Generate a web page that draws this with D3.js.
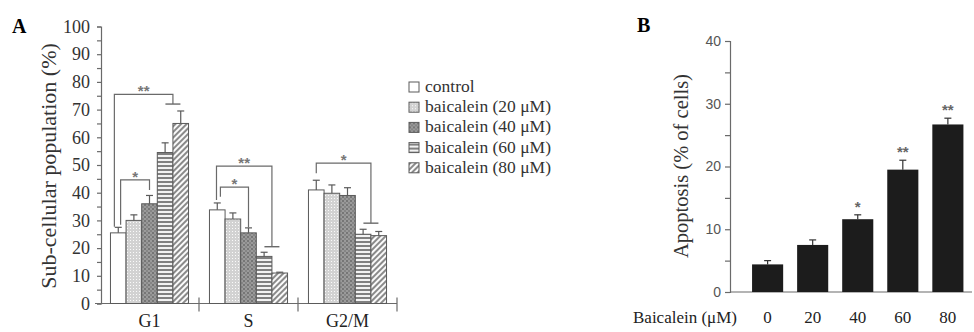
<!DOCTYPE html>
<html>
<head>
<meta charset="utf-8">
<script src="https://cdn.jsdelivr.net/npm/d3@7"></script>
<style>
  body { margin: 0; background: #fff; }
  svg { display: block; }
</style>
</head>
<body>
<div id="chart"></div>
<script>
// ---- data, panel A (cell cycle) ----
var phases = ["G1", "S", "G2/M"];
var treatments = ["control", "baicalein (20 μM)", "baicalein (40 μM)", "baicalein (60 μM)", "baicalein (80 μM)"];
var meanG1 = [25.5, 30, 36, 54.5, 65];
var meanS = [33.8, 30.5, 25.5, 17, 11];
var meanG2M = [41, 39.8, 39, 25, 24.5];
var errG1 = [2, 2, 3, 3.5, 4.5];
var errS = [2.5, 2.2, 1.8, 1.5, 0.3];
var errG2M = [3.5, 3, 2.8, 1.8, 1.5];
var yTicksA = [0, 10, 20, 30, 40, 50, 60, 70, 80, 90, 100];

// significance brackets: phase, left/right (treatment index, fractional), bracket level, leg ends, label
var brackets = [
  {phase: "G1", a: 0.25, b: 4.0, top: 75.5, aEnd: 27.7, bEnd: 72, cap: true, label: "**"},
  {phase: "G1", a: 0.65, b: 2.5, top: 44.6, aEnd: 28.4, bEnd: 41, cap: false, label: "*"},
  {phase: "S", a: 0.45, b: 4.0, top: 49.6, aEnd: 37.4, bEnd: 20.5, cap: true, label: "**"},
  {phase: "S", a: 0.7, b: 2.5, top: 42, aEnd: 38.5, bEnd: 27.5, cap: false, label: "*"},
  {phase: "G2/M", a: 0.5, b: 4.0, top: 50.7, aEnd: 47, bEnd: 29, cap: true, label: "*"}
];

// ---- data, panel B (apoptosis) ----
var doses = ["0", "20", "40", "60", "80"];
var apoptosis = [4.4, 7.5, 11.6, 19.5, 26.7];
var apoptosisErr = [0.6, 0.8, 0.7, 1.5, 1.0];
var apoptosisSig = ["", "", "*", "**", "**"];
var yTicksB = [0, 10, 20, 30, 40];

var width = 974, height = 332;
var serif = "'Liberation Serif', 'Times New Roman', serif";
var sans = "'Liberation Sans', Arial, sans-serif";

var svg = d3.select("#chart").append("svg")
  .attr("width", width)
  .attr("height", height);

var defs = svg.append("defs");

// fill patterns for the treatments
var p20 = defs.append("pattern").attr("id", "p20")
  .attr("patternUnits", "userSpaceOnUse").attr("width", 3).attr("height", 3);
p20.append("rect").attr("width", 3).attr("height", 3).attr("fill", "#d2d2d2");
p20.append("rect").attr("width", 1).attr("height", 1).attr("fill", "#fafafa");

var p40 = defs.append("pattern").attr("id", "p40")
  .attr("patternUnits", "userSpaceOnUse").attr("width", 4).attr("height", 4);
p40.append("rect").attr("width", 4).attr("height", 4).attr("fill", "#9a9a9a");
p40.append("rect").attr("width", 2).attr("height", 2).attr("fill", "#767676");
p40.append("rect").attr("x", 2).attr("y", 2).attr("width", 2).attr("height", 2).attr("fill", "#858585");

var p60 = defs.append("pattern").attr("id", "p60")
  .attr("patternUnits", "userSpaceOnUse").attr("width", 4).attr("height", 4);
p60.append("rect").attr("width", 4).attr("height", 4).attr("fill", "#f2f2f2");
p60.append("rect").attr("y", 1).attr("width", 4).attr("height", 2).attr("fill", "#808080");

var p80 = defs.append("pattern").attr("id", "p80")
  .attr("patternUnits", "userSpaceOnUse").attr("width", 4).attr("height", 4)
  .attr("patternTransform", "rotate(45)");
p80.append("rect").attr("width", 4).attr("height", 4).attr("fill", "#fafafa");
p80.append("rect").attr("width", 2).attr("height", 4).attr("fill", "#8a8a8a");

var fills = ["#ffffff", "url(#p20)", "url(#p40)", "url(#p60)", "url(#p80)"];

// ================= panel A =================
var means = {"G1": meanG1, "S": meanS, "G2/M": meanG2M};
var errs = {"G1": errG1, "S": errS, "G2/M": errG2M};

var yA = d3.scaleLinear().domain([0, 100]).range([303.5, 26.5]);
var xA = d3.scaleBand().domain(phases).range([100, 397]);
var xInner = d3.scaleBand().domain(d3.range(treatments.length))
  .range([0, xA.bandwidth()]).paddingOuter(0.67);

var gA = svg.append("g");

// y axis
var axisA = gA.append("g")
  .attr("transform", "translate(101,0)")
  .call(d3.axisLeft(yA).tickValues(d3.range(0, 101, 5)).tickSize(4)
    .tickFormat(function(d){ return yTicksA.indexOf(d) >= 0 ? d : ""; }));
axisA.select(".domain").attr("stroke", "#6a6a6a").attr("stroke-width", 1.2);
axisA.selectAll(".tick line").attr("stroke", "#6a6a6a").attr("stroke-width", 1.2);
axisA.selectAll(".tick text")
  .attr("x", -11)
  .attr("font-family", serif).attr("font-size", 18).attr("fill", "#333");

// x axis line with category separators
gA.append("line")
  .attr("x1", 95).attr("x2", xA.range()[1])
  .attr("y1", yA(0)).attr("y2", yA(0))
  .attr("stroke", "#6a6a6a").attr("stroke-width", 1.2);
gA.selectAll(".sep")
  .data(phases.slice(1).concat([null]))
  .enter().append("line")
  .attr("x1", function(d){ return d ? xA(d) : xA.range()[1]; })
  .attr("x2", function(d){ return d ? xA(d) : xA.range()[1]; })
  .attr("y1", yA(0) - 6).attr("y2", yA(0) + 8)
  .attr("stroke", "#6a6a6a").attr("stroke-width", 1.2);

gA.selectAll(".phaseLabel")
  .data(phases)
  .enter().append("text")
  .attr("x", function(d){ return xA(d) + xA.bandwidth() / 2; })
  .attr("y", 327)
  .attr("text-anchor", "middle")
  .attr("font-family", serif).attr("font-size", 18).attr("fill", "#222")
  .text(function(d){ return d; });

// bars
var groups = gA.selectAll(".phase")
  .data(phases)
  .enter().append("g")
  .attr("transform", function(d){ return "translate(" + xA(d) + ",0)"; });

groups.selectAll("rect")
  .data(function(p){ return means[p].map(function(v, i){ return {i: i, v: v, e: errs[p][i]}; }); })
  .enter().append("rect")
  .attr("x", function(d){ return xInner(d.i); })
  .attr("width", xInner.bandwidth())
  .attr("y", function(d){ return yA(d.v); })
  .attr("height", function(d){ return yA(0) - yA(d.v); })
  .attr("fill", function(d){ return fills[d.i]; })
  .attr("stroke", "#5a5a5a").attr("stroke-width", 1);

// error bars
var errA = groups.selectAll(".err")
  .data(function(p){ return means[p].map(function(v, i){ return {i: i, v: v, e: errs[p][i]}; }); })
  .enter().append("g")
  .attr("stroke", "#5a5a5a").attr("stroke-width", 1.2);
errA.append("line")
  .attr("x1", function(d){ return xInner(d.i) + xInner.bandwidth() / 2; })
  .attr("x2", function(d){ return xInner(d.i) + xInner.bandwidth() / 2; })
  .attr("y1", function(d){ return yA(d.v); })
  .attr("y2", function(d){ return yA(d.v + d.e); });
errA.append("line")
  .attr("x1", function(d){ return xInner(d.i) + xInner.bandwidth() / 2 - 3.5; })
  .attr("x2", function(d){ return xInner(d.i) + xInner.bandwidth() / 2 + 3.5; })
  .attr("y1", function(d){ return yA(d.v + d.e); })
  .attr("y2", function(d){ return yA(d.v + d.e); });

// significance brackets
var step = xInner.step();
function bx(b, idx){ return xA(b.phase) + xInner(0) + idx * step; }

var br = gA.selectAll(".bracket")
  .data(brackets)
  .enter().append("g");
br.append("path")
  .attr("d", function(b){
    return "M" + bx(b, b.a) + "," + yA(b.aEnd) +
      "V" + yA(b.top) + "H" + bx(b, b.b) + "V" + yA(b.bEnd);
  })
  .attr("fill", "none").attr("stroke", "#6a6a6a").attr("stroke-width", 1.2);
br.filter(function(b){ return b.cap; }).append("line")
  .attr("x1", function(b){ return bx(b, b.b) - 7.5; })
  .attr("x2", function(b){ return bx(b, b.b) + 7.5; })
  .attr("y1", function(b){ return yA(b.bEnd); })
  .attr("y2", function(b){ return yA(b.bEnd); })
  .attr("stroke", "#6a6a6a").attr("stroke-width", 1.4);
br.append("text")
  .attr("x", function(b){ return (bx(b, b.a) + bx(b, b.b)) / 2; })
  .attr("y", function(b){ return yA(b.top) + 2; })
  .attr("text-anchor", "middle")
  .attr("font-family", sans).attr("font-size", 15).attr("font-weight", "bold").attr("fill", "#777")
  .text(function(b){ return b.label; });

// y label
gA.append("text")
  .attr("transform", "translate(56,166) rotate(-90)")
  .attr("text-anchor", "middle")
  .attr("font-family", serif).attr("font-size", 22).attr("fill", "#333")
  .text("Sub-cellular population (%)");

gA.append("text")
  .attr("x", 12).attr("y", 33)
  .attr("font-family", serif).attr("font-size", 20).attr("font-weight", "bold")
  .text("A");

// legend
var legend = gA.selectAll(".legend")
  .data(treatments)
  .enter().append("g")
  .attr("transform", function(d, i){ return "translate(409," + (82 + i * 20.2) + ")"; });
legend.append("rect")
  .attr("width", 10).attr("height", 10)
  .attr("fill", function(d, i){ return fills[i]; })
  .attr("stroke", "#5a5a5a").attr("stroke-width", 1);
legend.append("text")
  .attr("x", 16).attr("y", 10)
  .attr("font-family", serif).attr("font-size", 17.5).attr("fill", "#333")
  .text(function(d){ return d; });

// ================= panel B =================
var yB = d3.scaleLinear().domain([0, 40]).range([292, 41]);
var xB = d3.scaleBand().domain(doses).range([730, 972])
  .paddingInner(0.31).paddingOuter(0.34).align(0.72);

var gB = svg.append("g");

var axisB = gB.append("g")
  .attr("transform", "translate(730,0)")
  .call(d3.axisLeft(yB).tickValues(d3.range(0, 41, 5)).tickSize(5)
    .tickFormat(function(d){ return yTicksB.indexOf(d) >= 0 ? d : ""; }));
axisB.select(".domain").attr("stroke", "#6a6a6a").attr("stroke-width", 1.2);
axisB.selectAll(".tick line").attr("stroke", "#6a6a6a").attr("stroke-width", 1.2);
axisB.selectAll(".tick text")
  .attr("x", -9)
  .attr("font-family", sans).attr("font-size", 14).attr("fill", "#555");

gB.append("line")
  .attr("x1", 730).attr("x2", 972)
  .attr("y1", yB(0)).attr("y2", yB(0))
  .attr("stroke", "#6a6a6a").attr("stroke-width", 1.2);

gB.selectAll(".barB")
  .data(apoptosis)
  .enter().append("rect")
  .attr("x", function(d, i){ return xB(doses[i]); })
  .attr("width", xB.bandwidth())
  .attr("y", function(d){ return yB(d); })
  .attr("height", function(d){ return yB(0) - yB(d); })
  .attr("fill", "#1c1c1c");

var errB = gB.selectAll(".errB")
  .data(apoptosis)
  .enter().append("g")
  .attr("stroke", "#333").attr("stroke-width", 1.2);
errB.append("line")
  .attr("x1", function(d, i){ return xB(doses[i]) + xB.bandwidth() / 2; })
  .attr("x2", function(d, i){ return xB(doses[i]) + xB.bandwidth() / 2; })
  .attr("y1", function(d){ return yB(d); })
  .attr("y2", function(d, i){ return yB(d + apoptosisErr[i]); });
errB.append("line")
  .attr("x1", function(d, i){ return xB(doses[i]) + xB.bandwidth() / 2 - 3.5; })
  .attr("x2", function(d, i){ return xB(doses[i]) + xB.bandwidth() / 2 + 3.5; })
  .attr("y1", function(d, i){ return yB(d + apoptosisErr[i]); })
  .attr("y2", function(d, i){ return yB(d + apoptosisErr[i]); });

gB.selectAll(".sigB")
  .data(apoptosis)
  .enter().append("text")
  .attr("x", function(d, i){ return xB(doses[i]) + xB.bandwidth() / 2; })
  .attr("y", function(d, i){ return yB(d + apoptosisErr[i]) - 3; })
  .attr("text-anchor", "middle")
  .attr("font-family", sans).attr("font-size", 15).attr("font-weight", "bold").attr("fill", "#666")
  .text(function(d, i){ return apoptosisSig[i]; });

gB.selectAll(".doseLabel")
  .data(doses)
  .enter().append("text")
  .attr("x", function(d){ return xB(d) + xB.bandwidth() / 2; })
  .attr("y", 323)
  .attr("text-anchor", "middle")
  .attr("font-family", serif).attr("font-size", 17).attr("fill", "#222")
  .text(function(d){ return d; });

gB.append("text")
  .attr("x", 737).attr("y", 323)
  .attr("text-anchor", "end")
  .attr("font-family", serif).attr("font-size", 17).attr("fill", "#222")
  .text("Baicalein (μM)");

gB.append("text")
  .attr("transform", "translate(688,166) rotate(-90)")
  .attr("text-anchor", "middle")
  .attr("font-family", serif).attr("font-size", 20.5).attr("fill", "#333")
  .text("Apoptosis (% of cells)");

gB.append("text")
  .attr("x", 637).attr("y", 32)
  .attr("font-family", serif).attr("font-size", 20).attr("font-weight", "bold")
  .text("B");
</script>
</body>
</html>
